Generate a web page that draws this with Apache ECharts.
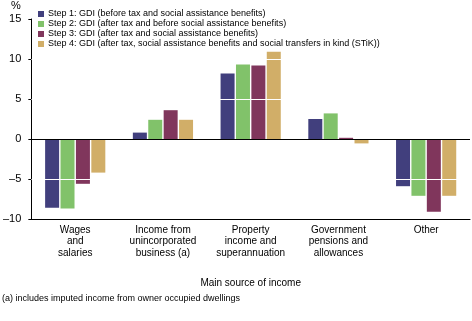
<!DOCTYPE html>
<html>
<head>
<meta charset="utf-8">
<script src="https://cdn.jsdelivr.net/npm/echarts@6/dist/echarts.min.js"></script>
<style>
  html, body { margin: 0; padding: 0; background: #fff; }
  #chart { width: 472px; height: 321px; }
</style>
</head>
<body>
<div id="chart"></div>
<script>
const FONT = '"Liberation Sans Narrow", "Arial Narrow", "Liberation Sans", sans-serif';

const categories = [
  "Wages\nand\nsalaries",
  "Income from\nunincorporated\nbusiness (a)",
  "Property\nincome and\nsuperannuation",
  "Government\npensions and\nallowances",
  "Other"
];
const seriesNames = [
  "Step 1: GDI (before tax and social assistance benefits)",
  "Step 2: GDI (after tax and before social assistance benefits)",
  "Step 3: GDI (after tax and social assistance benefits)",
  "Step 4: GDI (after tax, social assistance benefits and social transfers in kind (STiK))"
];
const step1 = [-8.6, 0.8, 8.2, 2.5, -5.9];
const step2 = [-8.7, 2.4, 9.3, 3.2, -7.1];
const step3 = [-5.6, 3.6, 9.2, 0.15, -9.1];
const step4 = [-4.2, 2.4, 10.9, -0.55, -7.1];
const colors = ["#413f7d", "#81c26a", "#80365c", "#d1ae68"];
const yTicks = [-10, -5, 0, 5, 10, 15];
const xTitle = "Main source of income";
const footnote = "(a) includes imputed income from owner occupied dwellings";

const chart = echarts.init(document.getElementById("chart"));

const allData = [step1, step2, step3, step4];
const series = allData.map((d, i) => ({
  name: seriesNames[i],
  type: "bar",
  data: d,
  barWidth: 14,
  barGap: "10%",
  itemStyle: { color: colors[i] },
  silent: true
}));

// white lines through the bars at each tick, black line at zero
series[3].markLine = {
  silent: true,
  symbol: "none",
  label: { show: false },
  data: yTicks.filter(v => v !== 0 && v !== -10 && v !== 15).map(v => ({
    yAxis: v, lineStyle: { color: "#fff", width: 1, type: "solid" }
  })).concat([{ yAxis: 0, lineStyle: { color: "#000", width: 1, type: "solid" } }])
};

chart.setOption({
  animation: false,
  textStyle: { fontFamily: FONT },
  legend: {
    orient: "vertical",
    left: 33,
    top: 4,
    itemWidth: 6,
    itemHeight: 6,
    itemGap: 0,
    icon: "rect",
    selectedMode: false,
    textStyle: { fontFamily: FONT, fontSize: 9, color: "#000", lineHeight: 10, padding: [0, 0, 0, -1] },
    data: seriesNames
  },
  graphic: [
    { type: "text", left: 2, top: 294, style: { text: footnote, font: "9px " + FONT, fill: "#000" } },
    { type: "text", left: 11, top: 0, style: { text: "%", font: "11px " + FONT, fill: "#000" } }
  ],
  grid: { left: 31, right: 2, top: 19, bottom: 102, containLabel: false },
  xAxis: {
    type: "category",
    data: categories,
    axisLine: { onZero: false, lineStyle: { color: "#000", width: 1 } },
    axisTick: { alignWithLabel: true, length: 4, lineStyle: { color: "#000" } },
    axisLabel: { color: "#000", fontSize: 10, lineHeight: 11.5, margin: 5, interval: 0 },
    name: xTitle,
    nameLocation: "middle",
    nameGap: 59,
    nameTextStyle: { color: "#000", fontSize: 10 }
  },
  yAxis: {
    type: "value",
    min: -10,
    max: 15,
    interval: 5,
    axisLine: { show: true, lineStyle: { color: "#000", width: 1 } },
    axisTick: { show: true, length: 3, lineStyle: { color: "#000" } },
    splitLine: { show: false },
    axisLabel: {
      color: "#000",
      fontSize: 11,
      margin: 10,
      formatter: v => (v < 0 ? "\u2013" + Math.abs(v) : String(v))
    }
  },
  series
});
</script>
</body>
</html>
